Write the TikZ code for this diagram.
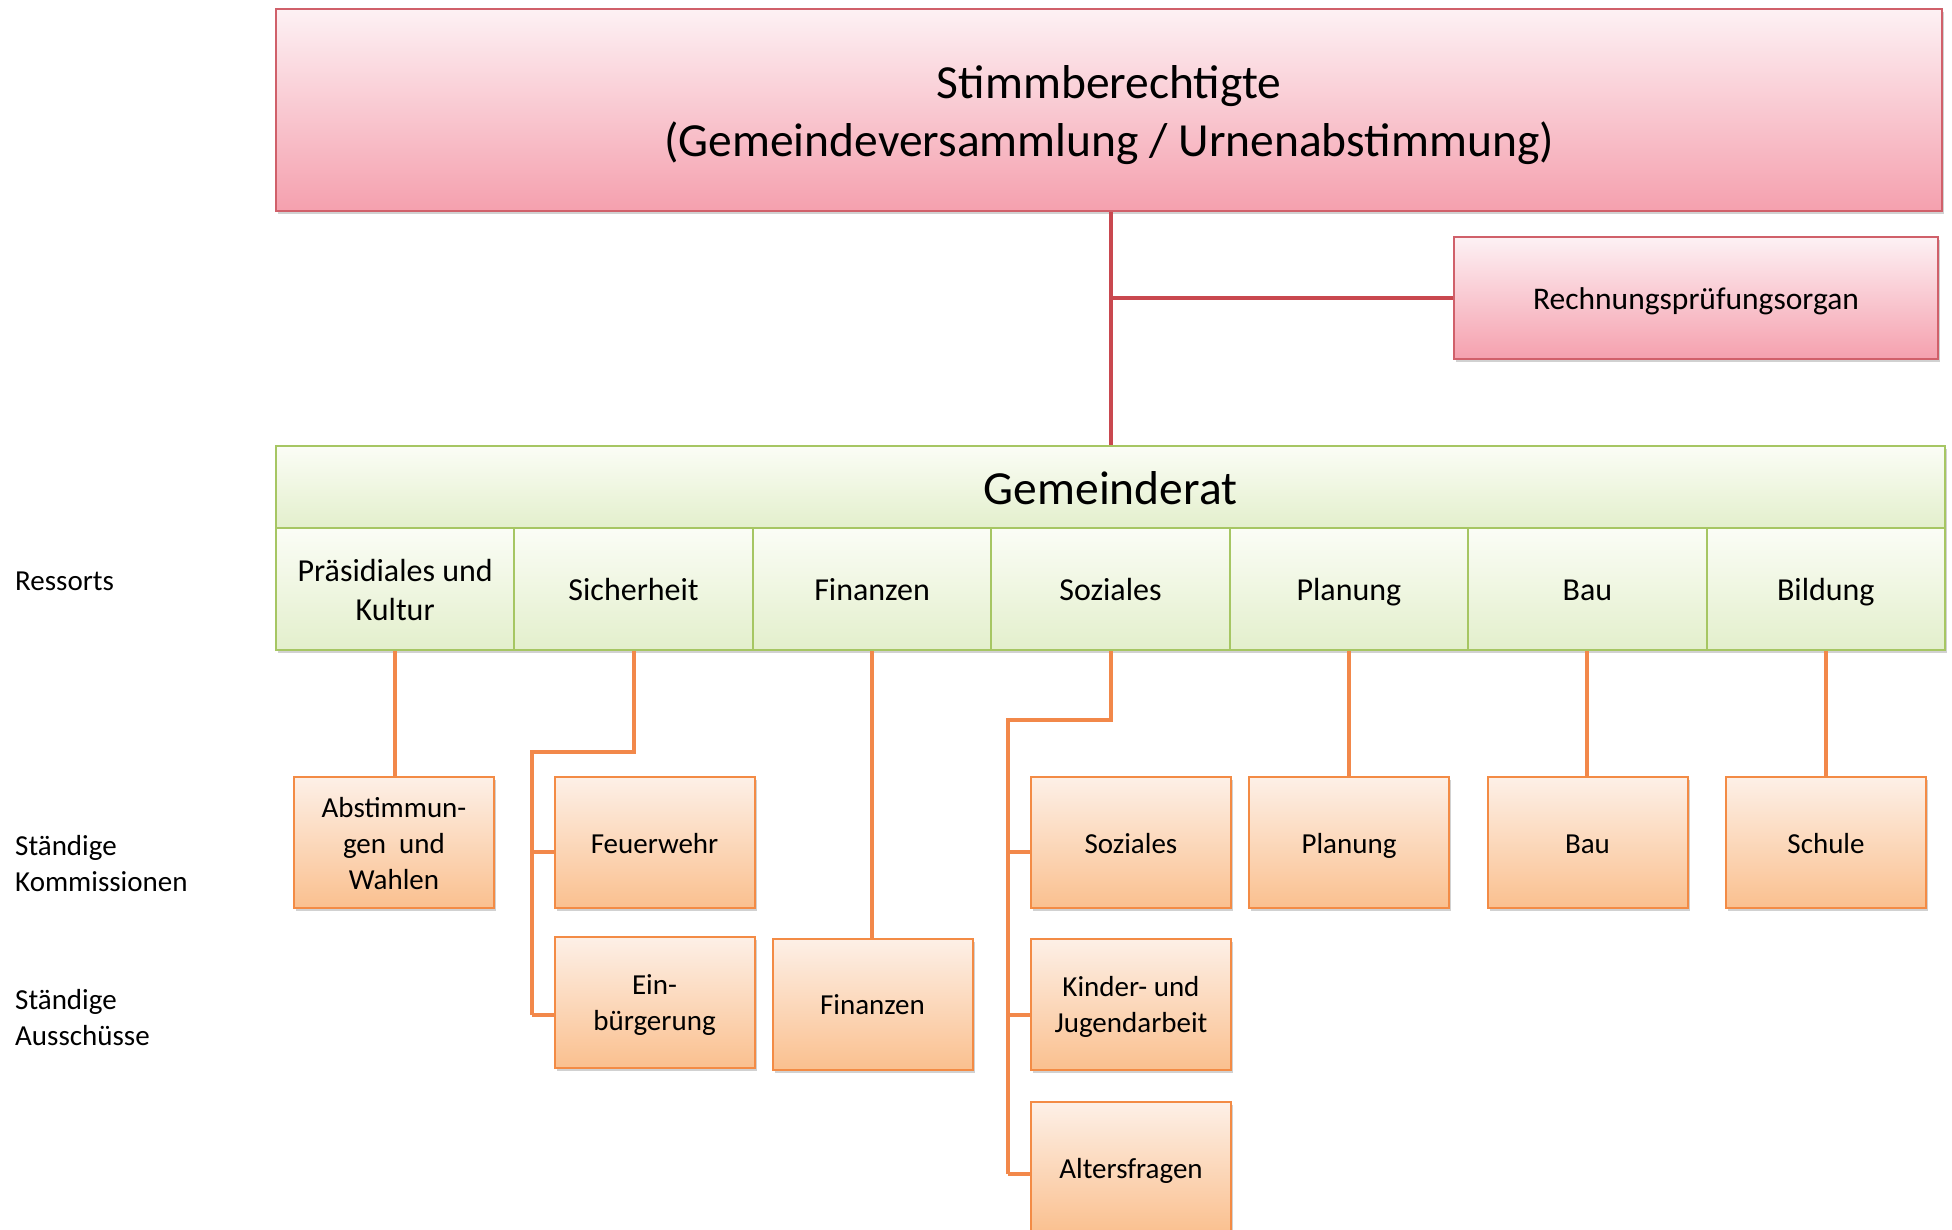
\documentclass[tikz,border=0pt]{standalone}
\usepackage{fontspec}
\setmainfont{Carlito}
\usetikzlibrary{shadows}
\definecolor{pinktop}{HTML}{FDF1F4}
\definecolor{pinkbot}{HTML}{F5A0AE}
\definecolor{pinkborder}{HTML}{D0606A}
\definecolor{redline}{HTML}{C9484F}
\definecolor{greentop}{HTML}{FBFDF6}
\definecolor{greenbot}{HTML}{E3EFCC}
\definecolor{greenborder}{HTML}{A6C663}
\definecolor{orangetop}{HTML}{FDF0E7}
\definecolor{orangebot}{HTML}{FAC08F}
\definecolor{orangeborder}{HTML}{F38B45}
\definecolor{orangeline}{HTML}{F2884A}
\newcommand\mystrut{\rule[-0.2\baselineskip]{0pt}{\baselineskip}}
\begin{document}
\begin{tikzpicture}[x=1pt,y=-1pt,
  shadowed/.style={drop shadow={shadow xshift=2pt,shadow yshift=-3pt,opacity=0.18,fill=black}},
  pinkbox/.style={shadowed,draw=pinkborder,line width=2.2pt,top color=pinktop,bottom color=pinkbot,inner sep=0pt,align=center},
  greenbox/.style={shadowed,draw=greenborder,line width=2pt,top color=greentop,bottom color=greenbot,inner sep=0pt,align=center},
  ressort/.style={greenbox,minimum width=238.4pt,minimum height=122pt,font=\fontsize{32}{39}\selectfont},
  orbox/.style={shadowed,draw=orangeborder,line width=2pt,top color=orangetop,bottom color=orangebot,inner sep=0pt,align=center,minimum width=200pt,minimum height=131pt,font=\fontsize{29}{36}\selectfont},
  sidelabel/.style={anchor=west,align=left,inner sep=0pt,font=\fontsize{29}{36}\selectfont},
  rline/.style={draw=redline,line width=4pt},
  oline/.style={draw=orangeline,line width=4pt}
]
\useasboundingbox[fill=white] (0,0) rectangle (1952,1230);

% top level
\node[pinkbox,minimum width=1666pt,minimum height=202pt,font=\fontsize{47.5}{58.5}\selectfont] (top) at (1109,110)
  {\mystrut Stimmberechtigte\\\mystrut(Gemeindeversammlung / Urnenabstimmung)};
\node[pinkbox,minimum width=484pt,minimum height=122pt,font=\fontsize{31.5}{38}\selectfont] (rech) at (1696,298)
  {\mystrut Rechnungsprüfungsorgan};

% Gemeinderat
\node[greenbox,minimum width=1669pt,minimum height=82pt,font=\fontsize{47.5}{58}\selectfont] (gr) at (1110.5,487) {\mystrut Gemeinderat};

% Ressorts
\node[ressort] (r1) at (395.2,589) {\mystrut Präsidiales und\\\mystrut Kultur};
\node[ressort] (r2) at (633.6,589) {\mystrut Sicherheit};
\node[ressort] (r3) at (872.1,589) {\mystrut Finanzen};
\node[ressort] (r4) at (1110.5,589) {\mystrut Soziales};
\node[ressort] (r5) at (1348.9,589) {\mystrut Planung};
\node[ressort] (r6) at (1587.4,589) {\mystrut Bau};
\node[ressort] (r7) at (1825.8,589) {\mystrut Bildung};

% red connectors
\draw[rline] (gr.north |- top.south) -- (gr.north);
\draw[rline] (gr.north |- rech.west) -- (rech.west);

% commission / committee boxes
\node[orbox] (abst) at (394,842.5) {\mystrut Abstimmun-\\\mystrut gen~~und\\\mystrut Wahlen};
\node[orbox] (feu) at (654.5,842.5) {\mystrut Feuerwehr};
\node[orbox] (ein) at (654.5,1002) {\mystrut Ein-\\\mystrut bürgerung};
\node[orbox] (fin) at (872.5,1004) {\mystrut Finanzen};
\node[orbox] (soz) at (1131,842.5) {\mystrut Soziales};
\node[orbox] (kin) at (1131,1004) {\mystrut Kinder- und\\\mystrut Jugendarbeit};
\node[orbox] (alt) at (1131,1167.5) {\mystrut Altersfragen};
\node[orbox] (pla) at (1349,842.5) {\mystrut Planung};
\node[orbox] (bau) at (1587.5,842.5) {\mystrut Bau};
\node[orbox] (sch) at (1826,842.5) {\mystrut Schule};

% orange connectors
\coordinate (sk) at (532,752);
\coordinate (sz) at (1008,720);
\draw[oline] (r1.south) -- (r1.south |- abst.north);
\draw[oline,line join=miter] (r2.south) -- (r2.south |- sk) -- (sk) -- (sk |- ein.west) ++(0,13) -- ++(0,-13);
\draw[oline] (sk |- ein.west) ++(0,13) -- ([yshift=-13pt]ein.west);
\draw[oline] (sk |- feu.west) ++(0,9) -- ([yshift=-9pt]feu.west);
\draw[oline] (r3.south) -- (r3.south |- fin.north);
\draw[oline,line join=miter] (r4.south) -- (r4.south |- sz) -- (sz) -- (sz |- alt.west) ++(0,6) -- ++(0,-6);
\draw[oline] (sz |- soz.west) ++(0,9) -- ([yshift=-9pt]soz.west);
\draw[oline] (sz |- kin.west) ++(0,11) -- ([yshift=-11pt]kin.west);
\draw[oline] (sz |- alt.west) ++(0,6) -- ([yshift=-6pt]alt.west);
\draw[oline] (r5.south) -- (r5.south |- pla.north);
\draw[oline] (r6.south) -- (r6.south |- bau.north);
\draw[oline] (r7.south) -- (r7.south |- sch.north);

% side labels
\node[sidelabel] (lres) at (15,581) {Ressorts};
\node[sidelabel] (lkom) at (15,864) {Ständige\\Kommissionen};
\node[sidelabel] (laus) at (15,1018) {Ständige\\Ausschüsse};
\end{tikzpicture}
\end{document}
